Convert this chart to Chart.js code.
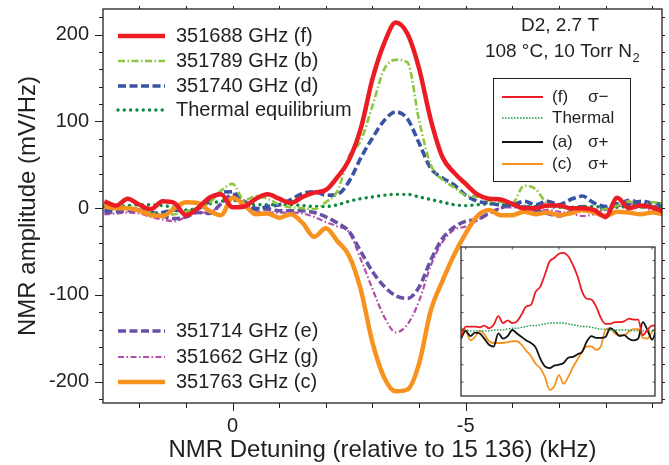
<!DOCTYPE html>
<html>
<head>
<meta charset="utf-8">
<title>NMR spectra</title>
<script src="https://cdn.jsdelivr.net/npm/chart.js@4.4.1/dist/chart.umd.min.js"></script>
<style>
  html, body { margin: 0; padding: 0; background: #fff; }
  #wrap { position: relative; width: 669px; height: 465px; }
  #main { position: absolute; left: 0; top: 0; }
  #inset { position: absolute; left: 455px; top: 241px; }
</style>
</head>
<body>
<div id="wrap">
  <canvas id="main" width="669" height="465"></canvas>
  <canvas id="inset" width="206" height="161"></canvas>
</div>
<script>
// detuning grid (kHz, relative to 15 136)
const detuning = [2.75, 2.5, 2.25, 2, 1.75, 1.5, 1.25, 1, 0.75, 0.5,
  0.25, 0, -0.25, -0.5, -0.75, -1, -1.25, -1.5, -1.75, -2,
  -2.25, -2.5, -2.75, -3, -3.25, -3.5, -3.75, -4, -4.25, -4.5,
  -4.75, -5, -5.25, -5.5, -5.75, -6, -6.25, -6.5, -6.75, -7,
  -7.25, -7.5, -7.75, -8, -8.25, -8.5, -8.75, -9, -9.25];

// NMR amplitude (mV/Hz) for each pump frequency
const amp351688 = [8, 3, 11, 4, -1, 8, 6, -8, 0, 12,
  16, 1, 2, 11, 16, 11, 6, 13, 18, 21,
  36, 56, 92, 149, 190, 214, 201, 161, 102, 59,
  41, 28, 16, 11, 10, 5, 0, 0, 3, 3,
  0, 0, -2, -10, 12, 0, 3, 1, -4];
const amp351789 = [4, 2, 1, -1, -4, -8, -7, -4, 1, 6,
  20, 28, 9, 14, 11, 4, 1, 0, -1, 7,
  20, 60, 78, 118, 160, 171, 168, 101, 50, 33,
  24, 15, 13, 9, 7, 6, 26, 22, 5, 1,
  0, -4, -3, -1, 3, 8, 1, 7, 5];
const amp351740 = [-2, -1, 0, -3, -6, -5, -2, -4, -1, 8,
  18, 19, 3, -1, 2, 4, 10, 17, 19, 15,
  16, 31, 58, 81, 101, 111, 103, 75, 46, 35,
  27, 15, 8, 6, 4, 4, 8, 4, 8, 4,
  10, 14, 6, 2, 5, 4, 8, 6, 4];
const ampThermal = [2, 2, 3, 4, 4, 3, 1, -2, 0, 5,
  8, 9, 6, 4, 4, 4, 4, 3, 2, 2,
  4, 8, 11, 13, 15, 16, 16, 13, 10, 7,
  4, 3, 4, 5, 4, 3, 2, 2, 2, 1,
  1, 2, 2, 1, 1, 2, 1, 2, 2];
const amp351714 = [-5, -4, -3, -2, -4, -9, -12, -10, -5, -6,
  5, 16, 8, 0, -1, -3, -3, -3, -5, -10,
  -17, -27, -50, -73, -90, -101, -104, -91, -60, -35,
  -22, -15, -13, -6, 0, 4, 2, -2, -6, -9,
  -4, 2, -2, 0, 3, 9, 6, 2, 0];
const amp351662 = [-7, -6, -5, -6, -10, -13, -15, -10, -5, -5,
  5, 12, 6, -4, -5, -5, -5, -6, -10, -16,
  -21, -28, -59, -93, -125, -143, -134, -107, -66, -39,
  -25, -21, -14, -5, 0, 1, -1, -3, -2, -4,
  -6, -9, -7, -2, 2, 5, 2, -2, -1];
const amp351763 = [2, 0, 0, -3, -8, -9, 0, 7, 6, -3,
  -8, 12, 4, -7, -6, -11, -7, -17, -33, -23,
  -38, -55, -94, -155, -195, -211, -209, -179, -118, -84,
  -54, -29, -9, -2, -8, -8, -4, -7, -5, -8,
  -6, -2, -5, -9, -4, -5, -7, -5, -7];

// inset: single-scan traces
const insetDetuning = [-4.9, -5, -5.1, -5.2, -5.3, -5.4, -5.5, -5.6, -5.7, -5.8,
  -5.9, -6, -6.1, -6.2, -6.3, -6.4, -6.5, -6.6, -6.7, -6.8,
  -6.9, -7, -7.1, -7.2, -7.3, -7.4, -7.5, -7.6, -7.7, -7.8,
  -7.9, -8, -8.1, -8.2, -8.3, -8.4, -8.5, -8.6, -8.7, -8.8,
  -8.9, -9, -9.1];
const insetF = [-8, 4, 4, 4, 3, 5, 2, 6, 16, 8,
  11, 8, 10, 18, 27, 29, 44, 50, 64, 79,
  83, 88, 89, 85, 75, 62, 44, 36, 35, 27,
  14, 7, 7, 9, 9, 10, 13, 12, 12, -6,
  0, 5, 5];
const insetThermal = [0, 0, -1, -1, -1, -1, -1, 0, 0, 0,
  1, 2, 2, 3, 4, 5, 5, 6, 7, 8,
  8, 8, 8, 7, 6, 5, 4, 4, 3, 2,
  1, 1, 0, 0, 0, 0, 0, -1, -1, -1,
  -1, -1, -1];
const insetA = [-10, -1, -7, -3, -4, -10, -17, -19, -4, -10,
  -7, 0, -4, -8, -12, -15, -20, -33, -42, -44,
  -41, -40, -38, -32, -31, -28, -25, -13, -7, -9,
  -9, -8, 2, -1, -7, -6, -10, -12, -10, 9,
  0, -11, 2];
const insetC = [2, 0, -12, -8, -1, -5, -13, -15, -15, -15,
  -14, -13, -13, -17, -24, -30, -39, -44, -54, -69,
  -65, -52, -62, -54, -43, -34, -25, -19, -19, -23,
  -19, 0, 2, -4, -6, -6, -2, 1, 1, -9,
  -10, -2, 2];

const TEXT = '#231f20';
const FAMILY = '"Liberation Sans", Arial, Helvetica, sans-serif';
Chart.defaults.font.family = FAMILY;
Chart.defaults.color = TEXT;

// red drawn last so it sits on top
const series = [
  { label: '351688 GHz (f)', values: amp351688, color: '#ec1c24', width: 4.5, dash: [] },
  { label: '351763 GHz (c)', values: amp351763, color: '#f7921e', width: 4.5, dash: [] },
  { label: '351789 GHz (b)', values: amp351789, color: '#8dc63f', width: 2.6, dash: [7, 2.5, 1.5, 2.5] },
  { label: '351740 GHz (d)', values: amp351740, color: '#3953a4', width: 3.6, dash: [8, 3.5] },
  { label: 'Thermal equilibrium', values: ampThermal, color: '#0b8a3e', width: 3.4, dash: [0.01, 6.3], cap: 'round' },
  { label: '351714 GHz (e)', values: amp351714, color: '#6a50a7', width: 3.6, dash: [8, 3.5] },
  { label: '351662 GHz (g)', values: amp351662, color: '#b24fa9', width: 2.2, dash: [6, 2.5, 1.5, 2.5] }
];
const legendTop = ['351688 GHz (f)', '351789 GHz (b)', '351740 GHz (d)', 'Thermal equilibrium'];
const legendBottom = ['351714 GHz (e)', '351662 GHz (g)', '351763 GHz (c)'];

const insetSeries = [
  { label: '(f)', sigma: 'σ−', values: insetF, color: '#ec1c24', width: 1.8, dash: [] },
  { label: 'Thermal', sigma: '', values: insetThermal, color: '#1a9a4a', width: 1.4, dash: [1.6, 1.4] },
  { label: '(a)', sigma: 'σ+', values: insetA, color: '#111111', width: 1.8, dash: [] },
  { label: '(c)', sigma: 'σ+', values: insetC, color: '#f7921e', width: 1.8, dash: [] }
];

function sample(ctx, x0, x1, y, s) {
  ctx.save();
  ctx.strokeStyle = s.borderColor || s.color;
  ctx.lineWidth = s.borderWidth || s.width;
  ctx.setLineDash(s.borderDash || s.dash || []);
  ctx.lineCap = s.borderCapStyle || 'butt';
  ctx.beginPath();
  ctx.moveTo(x0, y);
  ctx.lineTo(x1, y);
  ctx.stroke();
  ctx.restore();
}

const frame = {
  id: 'frame',
  afterDatasetsDraw(chart) {
    const { ctx, chartArea: a, scales: { x, y } } = chart;
    ctx.save();
    ctx.strokeStyle = TEXT;
    ctx.lineWidth = 1.3;
    ctx.strokeRect(a.left, a.top, a.right - a.left, a.bottom - a.top);

    // outward ticks on all four sides
    ctx.lineWidth = 1;
    ctx.beginPath();
    for (let v = -220; v <= 220; v += 20) {
      const py = Math.round(y.getPixelForValue(v)) + 0.5;
      const len = v % 100 === 0 ? 8 : 4;
      ctx.moveTo(a.left - len, py); ctx.lineTo(a.left, py);
      ctx.moveTo(a.right, py); ctx.lineTo(a.right + 3, py);
    }
    for (let v = -9; v <= 2; v++) {
      const px = Math.round(x.getPixelForValue(v)) + 0.5;
      const len = v % 5 === 0 ? 8 : 5;
      ctx.moveTo(px, a.bottom); ctx.lineTo(px, a.bottom + len);
      ctx.moveTo(px, a.top); ctx.lineTo(px, a.top - 3);
    }
    ctx.stroke();

    // legend groups
    const byLabel = {};
    chart.data.datasets.forEach(d => { byLabel[d.label] = d; });
    ctx.font = '20px ' + FAMILY;
    ctx.fillStyle = TEXT;
    ctx.textBaseline = 'middle';
    ctx.textAlign = 'left';
    const rowsTop = [36, 61, 86, 110];
    legendTop.forEach((lab, i) => {
      sample(ctx, 118, 165, rowsTop[i], byLabel[lab]);
      ctx.fillText(lab, 176, rowsTop[i]);
    });
    const rowsBottom = [331, 357, 382];
    legendBottom.forEach((lab, i) => {
      sample(ctx, 118, 165, rowsBottom[i], byLabel[lab]);
      ctx.fillText(lab, 176, rowsBottom[i]);
    });

    // conditions
    ctx.font = '19px ' + FAMILY;
    ctx.textAlign = 'center';
    ctx.fillText('D2, 2.7 T', 560, 26);
    const main = '108 °C, 10 Torr N';
    const wMain = ctx.measureText(main).width;
    ctx.font = '13px ' + FAMILY;
    const wSub = ctx.measureText('2').width;
    const x0 = 562 - (wMain + wSub) / 2;
    ctx.textAlign = 'left';
    ctx.font = '19px ' + FAMILY;
    ctx.fillText(main, x0, 52);
    ctx.font = '13px ' + FAMILY;
    ctx.fillText('2', x0 + wMain + 0.5, 58);

    // key for the inset traces
    ctx.fillStyle = '#fff';
    ctx.fillRect(493, 78, 137, 103);
    ctx.strokeStyle = TEXT;
    ctx.lineWidth = 1;
    ctx.strokeRect(493.5, 78.5, 137, 103);
    ctx.fillStyle = TEXT;
    ctx.font = '17px ' + FAMILY;
    const rowsKey = [97, 118, 142, 164];
    insetSeries.forEach((s, i) => {
      sample(ctx, 502, 543, rowsKey[i], s);
      ctx.fillText(s.label, 552, rowsKey[i]);
      if (s.sigma) ctx.fillText(s.sigma, 588, rowsKey[i]);
    });
    ctx.restore();
  }
};

new Chart(document.getElementById('main'), {
  type: 'line',
  data: {
    datasets: series.map(s => ({
      label: s.label,
      data: detuning.map((x, i) => ({ x, y: s.values[i] })),
      borderColor: s.color,
      borderWidth: s.width,
      borderDash: s.dash,
      borderCapStyle: s.cap || 'butt',
      pointRadius: 0,
      cubicInterpolationMode: 'monotone',
      fill: false
    }))
  },
  options: {
    responsive: false,
    animation: false,
    layout: { padding: { top: 9, right: 7, left: 0, bottom: 0 } },
    plugins: { legend: { display: false }, tooltip: { enabled: false } },
    scales: {
      x: {
        type: 'linear',
        reverse: true,
        min: -9.21,
        max: 2.78,
        afterFit: s => { s.height = 62; s.paddingLeft = 0; s.paddingRight = 0; },
        grid: { display: false, drawTicks: false },
        border: { display: false },
        ticks: { stepSize: 5, includeBounds: false, padding: 11, color: TEXT, font: { size: 20 } },
        title: {
          display: true,
          text: 'NMR Detuning (relative to 15 136) (kHz)',
          color: TEXT,
          font: { size: 24 },
          padding: { top: 0, bottom: 0 }
        }
      },
      y: {
        type: 'linear',
        min: -224.5,
        max: 229.6,
        afterFit: s => { s.width = 103; s.paddingTop = 0; s.paddingBottom = 0; },
        grid: { display: false, drawTicks: false },
        border: { display: false },
        ticks: { stepSize: 100, includeBounds: false, padding: 14, color: TEXT, font: { size: 20 } },
        title: {
          display: true,
          text: 'NMR amplitude (mV/Hz)',
          color: TEXT,
          font: { size: 24 },
          padding: { top: 14, bottom: 0 }
        }
      }
    }
  },
  plugins: [frame]
});

const insetFrame = {
  id: 'insetFrame',
  beforeDatasetsDraw(chart) {
    const { ctx, chartArea: a } = chart;
    ctx.save();
    ctx.fillStyle = '#fff';
    ctx.fillRect(a.left, a.top, a.right - a.left, a.bottom - a.top);
    ctx.restore();
  },
  afterDatasetsDraw(chart) {
    const { ctx, chartArea: a, scales: { x, y } } = chart;
    ctx.save();
    ctx.strokeStyle = TEXT;
    ctx.lineWidth = 1.2;
    ctx.strokeRect(a.left, a.top, a.right - a.left, a.bottom - a.top);
    ctx.lineWidth = 0.8;
    ctx.beginPath();
    for (let v = -60; v <= 80; v += 20) {
      const py = y.getPixelForValue(v);
      ctx.moveTo(a.left, py); ctx.lineTo(a.left + 2.5, py);
      ctx.moveTo(a.right - 2.5, py); ctx.lineTo(a.right, py);
    }
    for (let v = -9; v <= -5; v++) {
      const px = x.getPixelForValue(v);
      ctx.moveTo(px, a.top); ctx.lineTo(px, a.top + 2.5);
    }
    ctx.stroke();
    ctx.restore();
  }
};

new Chart(document.getElementById('inset'), {
  type: 'line',
  data: {
    datasets: insetSeries.map(s => ({
      label: s.label,
      data: insetDetuning.map((x, i) => ({ x, y: s.values[i] })),
      borderColor: s.color,
      borderWidth: s.width,
      borderDash: s.dash,
      pointRadius: 0,
      cubicInterpolationMode: 'monotone',
      fill: false
    }))
  },
  options: {
    responsive: false,
    animation: false,
    layout: { padding: 6 },
    plugins: { legend: { display: false }, tooltip: { enabled: false } },
    scales: {
      x: { type: 'linear', reverse: true, min: -9.062, max: -4.899, display: false },
      y: { type: 'linear', min: -76.1, max: 95.7, display: false }
    }
  },
  plugins: [insetFrame]
});
</script>
</body>
</html>
